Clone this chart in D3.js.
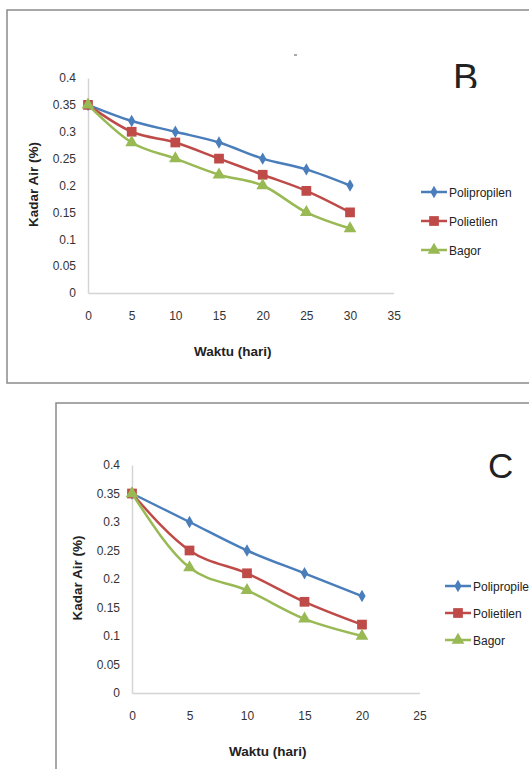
<!DOCTYPE html>
<html>
<head>
<meta charset="utf-8">
<script src="https://cdn.jsdelivr.net/npm/d3@7"></script>
<style>
  body { margin: 0; background: #fff; }
  svg { display: block; }
  text { font-family: "Liberation Sans", Arial, sans-serif; fill: #222; }
  .tick text { font-size: 12px; fill: #333; }
  .title { font-size: 13.5px; font-weight: bold; }
  .legend text { font-size: 12px; fill: #222; }
</style>
</head>
<body>
<svg id="chart" width="529" height="769"></svg>
<script>
// data, panel B (30 days)
const daysB = [0, 5, 10, 15, 20, 25, 30];
const polipropilenB = [0.35, 0.32, 0.30, 0.28, 0.25, 0.23, 0.20];
const polietilenB = [0.35, 0.30, 0.28, 0.25, 0.22, 0.19, 0.15];
const bagorB = [0.35, 0.28, 0.25, 0.22, 0.20, 0.15, 0.12];

// data, panel C (20 days)
const daysC = [0, 5, 10, 15, 20];
const polipropilenC = [0.35, 0.30, 0.25, 0.21, 0.17];
const polietilenC = [0.35, 0.25, 0.21, 0.16, 0.12];
const bagorC = [0.35, 0.22, 0.18, 0.13, 0.10];

const seriesNames = ['Polipropilen', 'Polietilen', 'Bagor'];
const yTicks = [0, 0.05, 0.1, 0.15, 0.2, 0.25, 0.3, 0.35, 0.4];
const xTicksB = [0, 5, 10, 15, 20, 25, 30, 35];
const xTicksC = [0, 5, 10, 15, 20, 25];

const colors = ['#4a7ebb', '#be4b48', '#98b954'];
const svg = d3.select('#chart');

// marker shapes, one per series
const markers = [
  d3.symbol().type(d3.symbolDiamond).size(45),
  d3.symbol().type(d3.symbolSquare).size(95),
  d3.symbol().type(d3.symbolTriangle).size(70)
];

function drawPanel(opt) {
  const g = svg.append('g');

  // outer frame (runs off the right edge like in the scan)
  g.append('rect')
    .attr('x', opt.frame[0]).attr('y', opt.frame[1])
    .attr('width', opt.frame[2]).attr('height', opt.frame[3])
    .attr('fill', 'none').attr('stroke', '#8a8a8a').attr('stroke-width', 1.5);

  const x = d3.scaleLinear().domain([0, opt.xMax]).range([opt.left, opt.right]);
  const y = d3.scaleLinear().domain([0, 0.4]).range([opt.bottom, opt.top]);

  // axes
  const xAxis = g.append('g')
    .attr('transform', `translate(0,${opt.bottom})`)
    .call(d3.axisBottom(x).tickValues(opt.xTicks).tickSize(0).tickPadding(18));
  const yAxis = g.append('g')
    .attr('transform', `translate(${opt.left},0)`)
    .call(d3.axisLeft(y).tickValues(yTicks).tickSize(0).tickPadding(12)
      .tickFormat(d => String(+d.toFixed(2))));
  [xAxis, yAxis].forEach(a => {
    a.select('.domain').attr('stroke', '#d4d4d4').attr('stroke-width', 1.5);
    a.selectAll('.tick text').attr('font-family', null).attr('font-size', null);
  });

  // axis titles
  g.append('text').attr('class', 'title')
    .attr('x', (opt.left + opt.right) / 2 - 8).attr('y', opt.bottom + 63)
    .attr('text-anchor', 'middle').text('Waktu (hari)');
  g.append('text').attr('class', 'title')
    .attr('transform', `translate(${opt.left - 50},${(opt.top + opt.bottom) / 2 - 1}) rotate(-90)`)
    .attr('text-anchor', 'middle').text('Kadar Air (%)');

  // panel letter
  g.append('text')
    .attr('x', opt.letterPos[0]).attr('y', opt.letterPos[1])
    .attr('font-size', opt.letterSize).attr('fill', '#111').text(opt.letter);

  const line = d3.line()
    .x((d, i) => x(opt.days[i]))
    .y(d => y(d))
    .curve(d3.curveMonotoneX);

  opt.series.forEach((vals, k) => {
    g.append('path').datum(vals)
      .attr('d', line).attr('fill', 'none')
      .attr('stroke', colors[k]).attr('stroke-width', 2.5);
    g.selectAll(null).data(vals).enter().append('path')
      .attr('d', markers[k])
      .attr('transform', (d, i) => `translate(${x(opt.days[i])},${y(d)})`)
      .attr('fill', colors[k]);
  });

  // legend
  const lg = g.append('g').attr('class', 'legend');
  seriesNames.forEach((name, k) => {
    const ly = opt.legend[1] + k * opt.legendGap;
    lg.append('line')
      .attr('x1', opt.legend[0]).attr('x2', opt.legend[0] + 26)
      .attr('y1', ly).attr('y2', ly)
      .attr('stroke', colors[k]).attr('stroke-width', 2.5);
    lg.append('path').attr('d', markers[k])
      .attr('transform', `translate(${opt.legend[0] + 13},${ly})`)
      .attr('fill', colors[k]);
    lg.append('text')
      .attr('x', opt.legend[0] + 28).attr('y', ly + 4.5)
      .text(name);
  });
}

drawPanel({
  frame: [7, 10, 540, 373],
  left: 88, right: 393.7, top: 78, bottom: 293, xMax: 35,
  xTicks: xTicksB, days: daysB,
  series: [polipropilenB, polietilenB, bagorB],
  letter: 'B', letterPos: [453, 91], letterSize: 38,
  legend: [421, 192], legendGap: 29
});

drawPanel({
  frame: [56, 403, 500, 400],
  left: 132, right: 419.5, top: 465, bottom: 693, xMax: 25,
  xTicks: xTicksC, days: daysC,
  series: [polipropilenC, polietilenC, bagorC],
  letter: 'C', letterPos: [488, 478], letterSize: 35,
  legend: [445, 586], legendGap: 27
});

// the scan cuts off the bottom of the "B"
svg.append('rect').attr('x', 440).attr('y', 88).attr('width', 60).attr('height', 14).attr('fill', '#fff');
// stray mark above panel B
svg.append('line').attr('x1', 294).attr('x2', 297).attr('y1', 55).attr('y2', 55)
  .attr('stroke', '#555').attr('stroke-width', 1);
</script>
</body>
</html>
